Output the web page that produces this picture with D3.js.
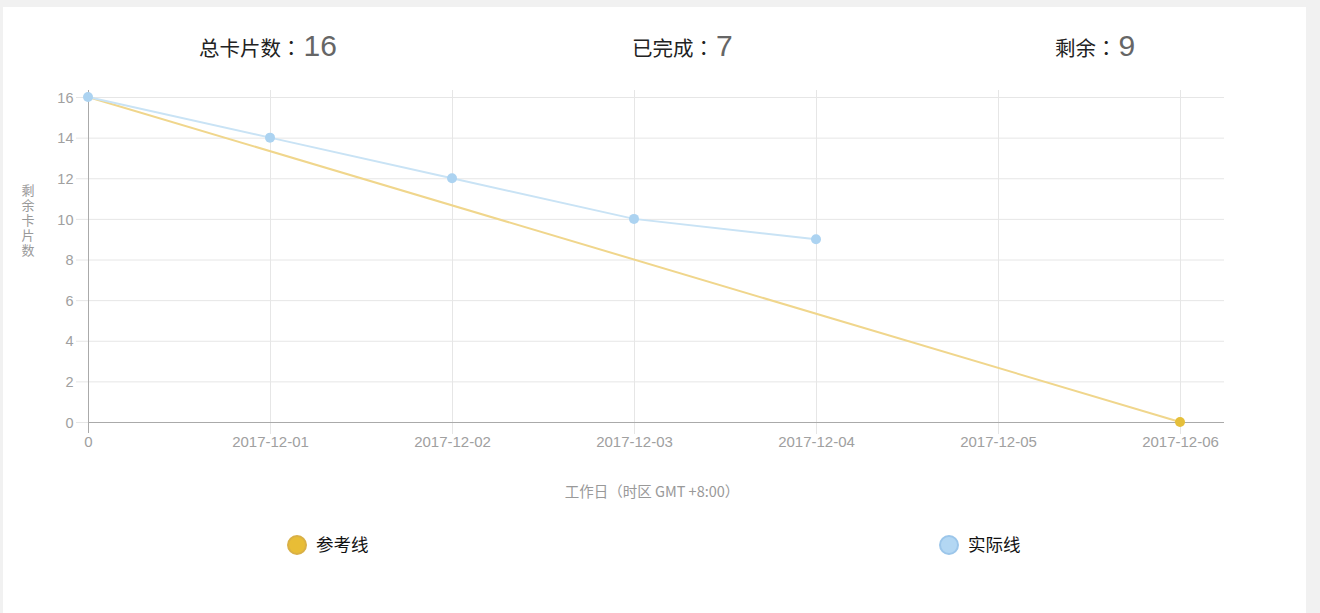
<!DOCTYPE html>
<html><head><meta charset="utf-8">
<script src="https://cdn.jsdelivr.net/npm/d3@7/dist/d3.min.js"></script>
<style>
html,body{margin:0;padding:0;background:#f1f1f1;}
svg{display:block;}
</style></head>
<body>
<svg id="c" width="1320" height="613"></svg>
<script>
const categories = ["0","2017-12-01","2017-12-02","2017-12-03","2017-12-04","2017-12-05","2017-12-06"];
const referenceValues = [16, null, null, null, null, null, 0];
const actualValues = [16, 14, 12, 10, 9];
const yTicks = [0,2,4,6,8,10,12,14,16];
const headerLabels = ["总卡片数","已完成","剩余"];
const headerValues = [16, 7, 9];
const legendLabels = ["参考线","实际线"];

const svg = d3.select("#c");
svg.append("rect").attr("x",3).attr("y",7).attr("width",1303).attr("height",606).attr("fill","#fff");

const cjk = "'Noto Sans CJK SC','Noto Sans',sans-serif";
const cjkTC = "'Noto Sans CJK TC','Noto Sans CJK SC',sans-serif";
const lat = "'Liberation Sans',Arial,sans-serif";

// header
const hx = [199, 632, 1055];
headerLabels.forEach((l,i)=>{
  const t = svg.append("text").attr("x",hx[i]).attr("y",56);
  t.append("tspan").text(l).attr("font-family",cjk).attr("font-size",20.5).attr("fill","#222");
  t.append("tspan").text("：").attr("font-family",cjkTC).attr("font-size",20.5).attr("fill","#222");
  t.append("tspan").text(headerValues[i]).attr("dx",2).attr("font-family",lat).attr("font-size",30).attr("fill","#666");
});

const x = d3.scalePoint().domain(categories).range([88,1180]);
const y = d3.scaleLinear().domain([0,16]).range([422,97]);
const right = 1224;

// grid
const g = svg.append("g");
g.selectAll(".hg").data(yTicks).join("line")
  .attr("x1",76).attr("x2",right).attr("y1",d=>y(d)+0.5).attr("y2",d=>y(d)+0.5)
  .attr("stroke","#e6e6e6").attr("stroke-width",1);
g.selectAll(".vg").data(categories.slice(1)).join("line")
  .attr("x1",d=>Math.round(x(d))+0.5).attr("x2",d=>Math.round(x(d))+0.5).attr("y1",90).attr("y2",434)
  .attr("stroke","#e6e6e6").attr("stroke-width",1);

// axes
const yAxis = d3.axisLeft(y).tickValues(yTicks).tickSize(0).tickPadding(15);
const ya = svg.append("g").attr("transform","translate(88.5,0.5)").call(yAxis);
ya.select(".domain").remove();
ya.selectAll("text").attr("font-family",lat).attr("font-size",14.5).attr("fill","#a0a0a0");

const xAxis = d3.axisBottom(x).tickSize(0).tickPadding(14);
const xa = svg.append("g").attr("transform","translate(0,422.5)").call(xAxis);
xa.select(".domain").remove();
xa.selectAll("text").attr("font-family",lat).attr("font-size",15).attr("fill","#a0a0a0");

svg.append("line").attr("x1",88.5).attr("x2",88.5).attr("y1",90).attr("y2",433).attr("stroke","#aaa");
svg.append("line").attr("x1",88).attr("x2",right).attr("y1",422.5).attr("y2",422.5).attr("stroke","#aaa");

// axis titles
svg.append("text").attr("x",28).attr("y",184)
  .style("writing-mode","vertical-rl").style("text-orientation","upright")
  .attr("font-family",cjk).attr("font-size",13).attr("letter-spacing",2)
  .attr("fill","#999").text("剩余卡片数");
const xt = svg.append("text").attr("x",652).attr("y",497).attr("text-anchor","middle")
  .attr("font-family",cjk).attr("font-size",14.5).attr("fill","#999");
xt.append("tspan").text("工作日");
xt.append("tspan").attr("font-family",cjkTC).text("（");
xt.append("tspan").text("时区 GMT +8:00");
xt.append("tspan").attr("font-family",cjkTC).text("）");

// reference line
const refPts = categories.map((c,i)=>({c,v:referenceValues[i]})).filter(d=>d.v!==null);
const line = d3.line().x(d=>x(d.c)).y(d=>y(d.v));
svg.append("path").datum(refPts).attr("d",line).attr("fill","none").attr("stroke","#f0d68c").attr("stroke-width",2);
svg.append("circle").attr("cx",x(refPts[1].c)).attr("cy",y(refPts[1].v)).attr("r",5).attr("fill","#e5bf3a");

// actual line
const actPts = actualValues.map((v,i)=>({c:categories[i],v}));
svg.append("path").datum(actPts).attr("d",line).attr("fill","none").attr("stroke","#c9e3f5").attr("stroke-width",2);
svg.selectAll(".ap").data(actPts).join("circle").attr("cx",d=>x(d.c)).attr("cy",d=>y(d.v)).attr("r",5).attr("fill","#acd3f1");

// legend
const lg = [{x:297,fill:"#e8bd36",stroke:"#d9b046"},{x:949,fill:"#b3d7f3",stroke:"#9cc6ea"}];
lg.forEach((l,i)=>{
  svg.append("circle").attr("cx",l.x).attr("cy",545).attr("r",9).attr("fill",l.fill).attr("stroke",l.stroke).attr("stroke-width",2);
  svg.append("text").attr("x",l.x+19).attr("y",551).attr("font-family",cjk).attr("font-size",17.5).attr("fill","#111").text(legendLabels[i]);
});
</script>
</body></html>
